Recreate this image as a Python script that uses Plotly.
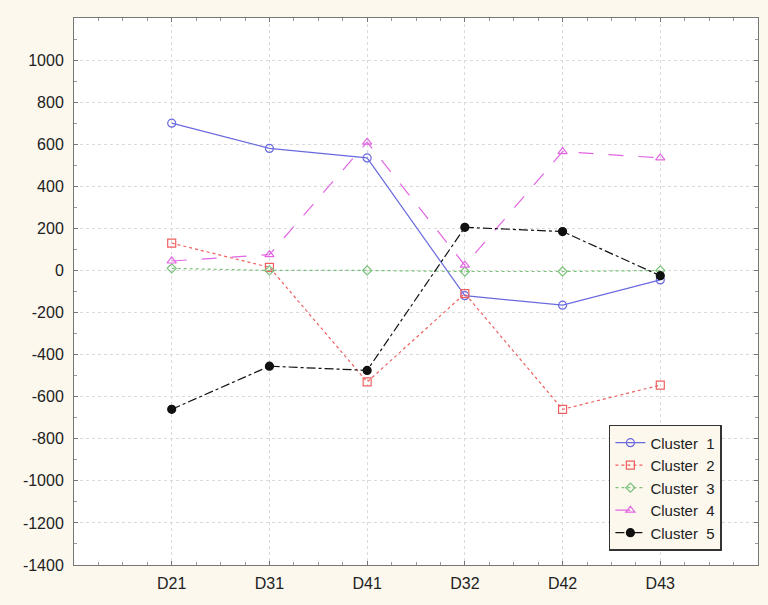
import plotly.graph_objects as go

categories = ["D21", "D31", "D41", "D32", "D42", "D43"]
cluster_1 = [700, 580, 535, -120, -165, -45]
cluster_2 = [130, 15, -530, -110, -660, -545]
cluster_3 = [10, 0, 0, -5, -5, 0]
cluster_4 = [45, 75, 610, 25, 565, 535]
cluster_5 = [-660, -455, -475, 205, 185, -25]
y_ticks = list(range(-1400, 1001, 200))

x_pos = list(range(1, len(categories) + 1))

series = [
    ("Cluster  1", cluster_1, "#6a6ae0", "solid", "circle-open", 8),
    ("Cluster  2", cluster_2, "#ef6060", "dot", "square-open", 8),
    ("Cluster  3", cluster_3, "#7cc27c", "dot", "diamond-open", 7),
    ("Cluster  4", cluster_4, "#e266e2", "longdash", "triangle-up-open", 8),
    ("Cluster  5", cluster_5, "#111111", "dashdot", "circle", 8),
]

fig = go.Figure()
for name, vals, color, dash, sym, size in series:
    fig.add_trace(go.Scatter(
        x=x_pos, y=vals, name=name, mode="lines+markers",
        line=dict(color=color, width=1.2, dash=dash),
        marker=dict(symbol=sym, size=size, color=color,
                    line=dict(color=color, width=1.2)),
    ))

fig.update_layout(
    width=768, height=605,
    paper_bgcolor="#fcf8ee",
    plot_bgcolor="white",
    margin=dict(l=74, r=10, t=18, b=40),
    font=dict(family="Liberation Sans, Arial, sans-serif", size=16, color="#222"),
    showlegend=True,
    legend=dict(
        x=0.782, y=0.256, xanchor="left", yanchor="top",
        bgcolor="#fcf8ee", bordercolor="#333", borderwidth=1.5,
        font=dict(size=15), tracegroupgap=0, itemwidth=30,
    ),
)

fig.update_xaxes(
    range=[0, 7], tickvals=x_pos, ticktext=categories,
    showline=True, linecolor="#777", mirror="ticks",
    ticks="inside", ticklen=4, tickcolor="#777",
    minor=dict(dtick=0.25, ticks="inside", ticklen=3, tickcolor="#999", showgrid=False),
    showgrid=True, gridcolor="#dadada", griddash="dot", gridwidth=1,
    zeroline=False, tickfont=dict(size=16), ticklabelstandoff=4,
)
fig.update_yaxes(
    range=[-1400, 1200], tickvals=y_ticks, ticktext=[str(v) for v in y_ticks],
    showline=True, linecolor="#777", mirror="ticks",
    ticks="inside", ticklen=4, tickcolor="#777",
    minor=dict(dtick=100, ticks="inside", ticklen=3, tickcolor="#999", showgrid=False),
    showgrid=True, gridcolor="#dadada", griddash="dot", gridwidth=1,
    zeroline=False, tickfont=dict(size=16), ticklabelstandoff=6,
)

fig.write_html("out.html")
